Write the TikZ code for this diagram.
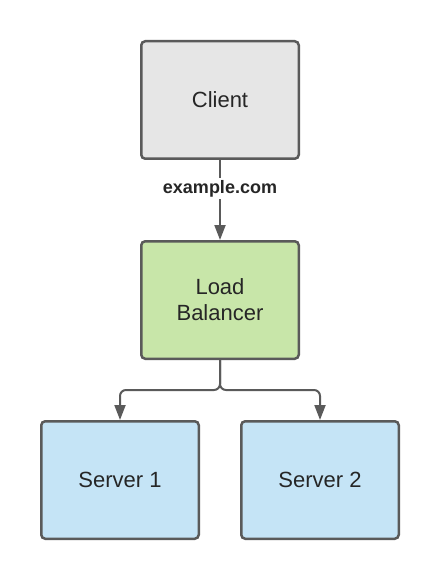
\documentclass[tikz,border=0pt]{standalone}
\usepackage{fontspec}
\setmainfont{Liberation Sans}
\usetikzlibrary{arrows.meta}

\definecolor{edgegray}{HTML}{5A5A5A}
\definecolor{clientfill}{HTML}{E6E6E6}
\definecolor{lbfill}{HTML}{C8E6A9}
\definecolor{serverfill}{HTML}{C5E4F6}

\tikzset{
  box/.style={draw=edgegray,line width=2.5pt,rounded corners=4pt,minimum width=157.5pt,minimum height=117.5pt,align=center,font=\fontsize{22}{26}\selectfont,text=black!85},
  conn/.style={draw=edgegray,line width=2pt,-{Triangle[length=15pt,width=11pt]}},
  lbl/.style={fill=white,font=\fontsize{18}{20}\selectfont\bfseries,text=black!85,inner sep=2pt}
}

\begin{document}
\begin{tikzpicture}[x=1pt,y=-1pt]
        \useasboundingbox (0,0) rectangle (440,580);

        \node[box,fill=clientfill] (client) at (220,100) {Client};
        \node[box,fill=lbfill] (lb) at (220,300) {Load\\Balancer};
        \node[box,fill=serverfill] (s1) at (120,480) {Server 1};
        \node[box,fill=serverfill] (s2) at (320,480) {Server 2};
        \coordinate (split) at (220,390);

        \draw[conn] (client) -- node[lbl,pos=.36] {example.com} (lb);
        \draw[conn,rounded corners=6pt] (lb.south) -- (split) -| (s1.north);
        \draw[conn,rounded corners=6pt] (lb.south) -- (split) -| (s2.north);
\end{tikzpicture}
\end{document}
